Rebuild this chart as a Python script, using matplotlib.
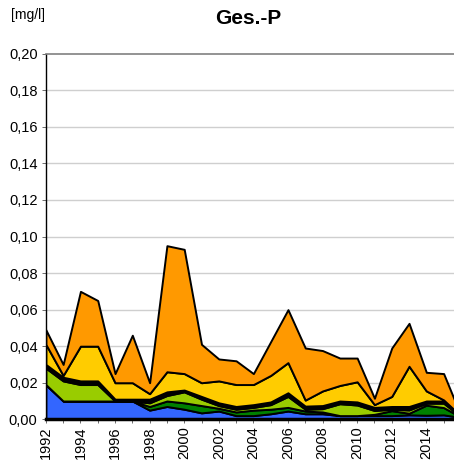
import numpy as np
import matplotlib
matplotlib.use("Agg")
import matplotlib.pyplot as plt
from matplotlib.ticker import FuncFormatter, MultipleLocator

plt.rcParams["font.family"] = ["Liberation Sans", "DejaVu Sans"]

years = list(range(1992, 2017))

# cumulative tops of each layer (mg/l)
top_blue = [0.019, 0.010, 0.010, 0.010, 0.010, 0.010, 0.005, 0.007, 0.0055, 0.0035,
            0.0045, 0.002, 0.002, 0.003, 0.0045, 0.003, 0.003, 0.002, 0.002, 0.002,
            0.002, 0.0024, 0.0022, 0.0024, 0.001]
top_dkgreen = [0.019, 0.010, 0.010, 0.010, 0.010, 0.010, 0.007, 0.010, 0.009, 0.0075,
               0.006, 0.004, 0.005, 0.0055, 0.0065, 0.0045, 0.004, 0.002, 0.002, 0.0027,
               0.0047, 0.0033, 0.0077, 0.0064, 0.0012]
top_ltgreen = [0.028, 0.021, 0.019, 0.019, 0.010, 0.010, 0.009, 0.013, 0.015, 0.011,
               0.0075, 0.0055, 0.0065, 0.008, 0.0125, 0.0055, 0.0058, 0.0085, 0.0078, 0.0048,
               0.0055, 0.0051, 0.0088, 0.0088, 0.0014]
top_black = [0.030, 0.023, 0.021, 0.021, 0.011, 0.011, 0.011, 0.015, 0.016, 0.0125,
             0.009, 0.007, 0.008, 0.0095, 0.0145, 0.0072, 0.0075, 0.010, 0.0095, 0.0065,
             0.007, 0.007, 0.010, 0.010, 0.0016]
top_yellow = [0.041, 0.024, 0.040, 0.040, 0.020, 0.020, 0.014, 0.026, 0.025, 0.020,
              0.021, 0.019, 0.019, 0.024, 0.031, 0.0105, 0.0155, 0.0185, 0.0205, 0.008,
              0.0125, 0.029, 0.0155, 0.0106, 0.0018]
top_orange = [0.049, 0.030, 0.070, 0.065, 0.025, 0.046, 0.020, 0.095, 0.093, 0.041,
              0.033, 0.032, 0.025, 0.0425, 0.060, 0.039, 0.0376, 0.0335, 0.0335, 0.0115,
              0.039, 0.0525, 0.0257, 0.025, 0.002]

tops = [top_blue, top_dkgreen, top_ltgreen, top_black, top_yellow, top_orange]
colors = ["#3366FF", "#008000", "#99CC00", "#000000", "#FFCC00", "#FF9900"]

tops = np.array(tops)
layers = np.diff(np.vstack([np.zeros(len(years)), tops]), axis=0)

fig = plt.figure(figsize=(4.54, 4.62), dpi=100)
ax = fig.add_axes([0.101, 0.0925, 0.899, 0.791])

ax.set_xlim(1992, 2015.6)
ax.set_ylim(0, 0.20)
ax.yaxis.set_major_locator(MultipleLocator(0.02))

# light horizontal gridlines at the y ticks, under the areas
for t in ax.get_yticks():
    if 0 < t < 0.2:
        ax.axhline(t, color="#cfcfcf", linewidth=1.0, zorder=1)

ax.stackplot(years, layers, colors=colors, edgecolor="black", linewidth=1.4, zorder=2)

ax.yaxis.set_major_formatter(FuncFormatter(lambda v, p: f"{v:.2f}".replace(".", ",")))
ax.xaxis.set_major_locator(MultipleLocator(2))
ax.xaxis.set_minor_locator(MultipleLocator(1))
ax.xaxis.set_major_formatter(FuncFormatter(lambda v, p: f"{int(v)}"))

ax.tick_params(axis="both", labelsize=10.5, length=3, width=0.6, color="#555555")
ax.tick_params(axis="x", which="minor", length=3, width=0.6, color="#555555")
ax.tick_params(axis="x", rotation=90, pad=2)
ax.tick_params(axis="y", pad=3)

ax.spines["right"].set_visible(False)
ax.spines["top"].set_color("#808080")
ax.spines["top"].set_linewidth(1.2)
ax.spines["left"].set_color("black")
ax.spines["left"].set_linewidth(1.0)
ax.spines["bottom"].set_color("black")
ax.spines["bottom"].set_linewidth(2.5)

fig.text(0.546, 0.960, "Ges.-P", ha="center", va="center", fontsize=15, fontweight="bold")
fig.text(0.025, 0.968, "[mg/l]", ha="left", va="center", fontsize=10)

fig.savefig("out.png", dpi=100)
